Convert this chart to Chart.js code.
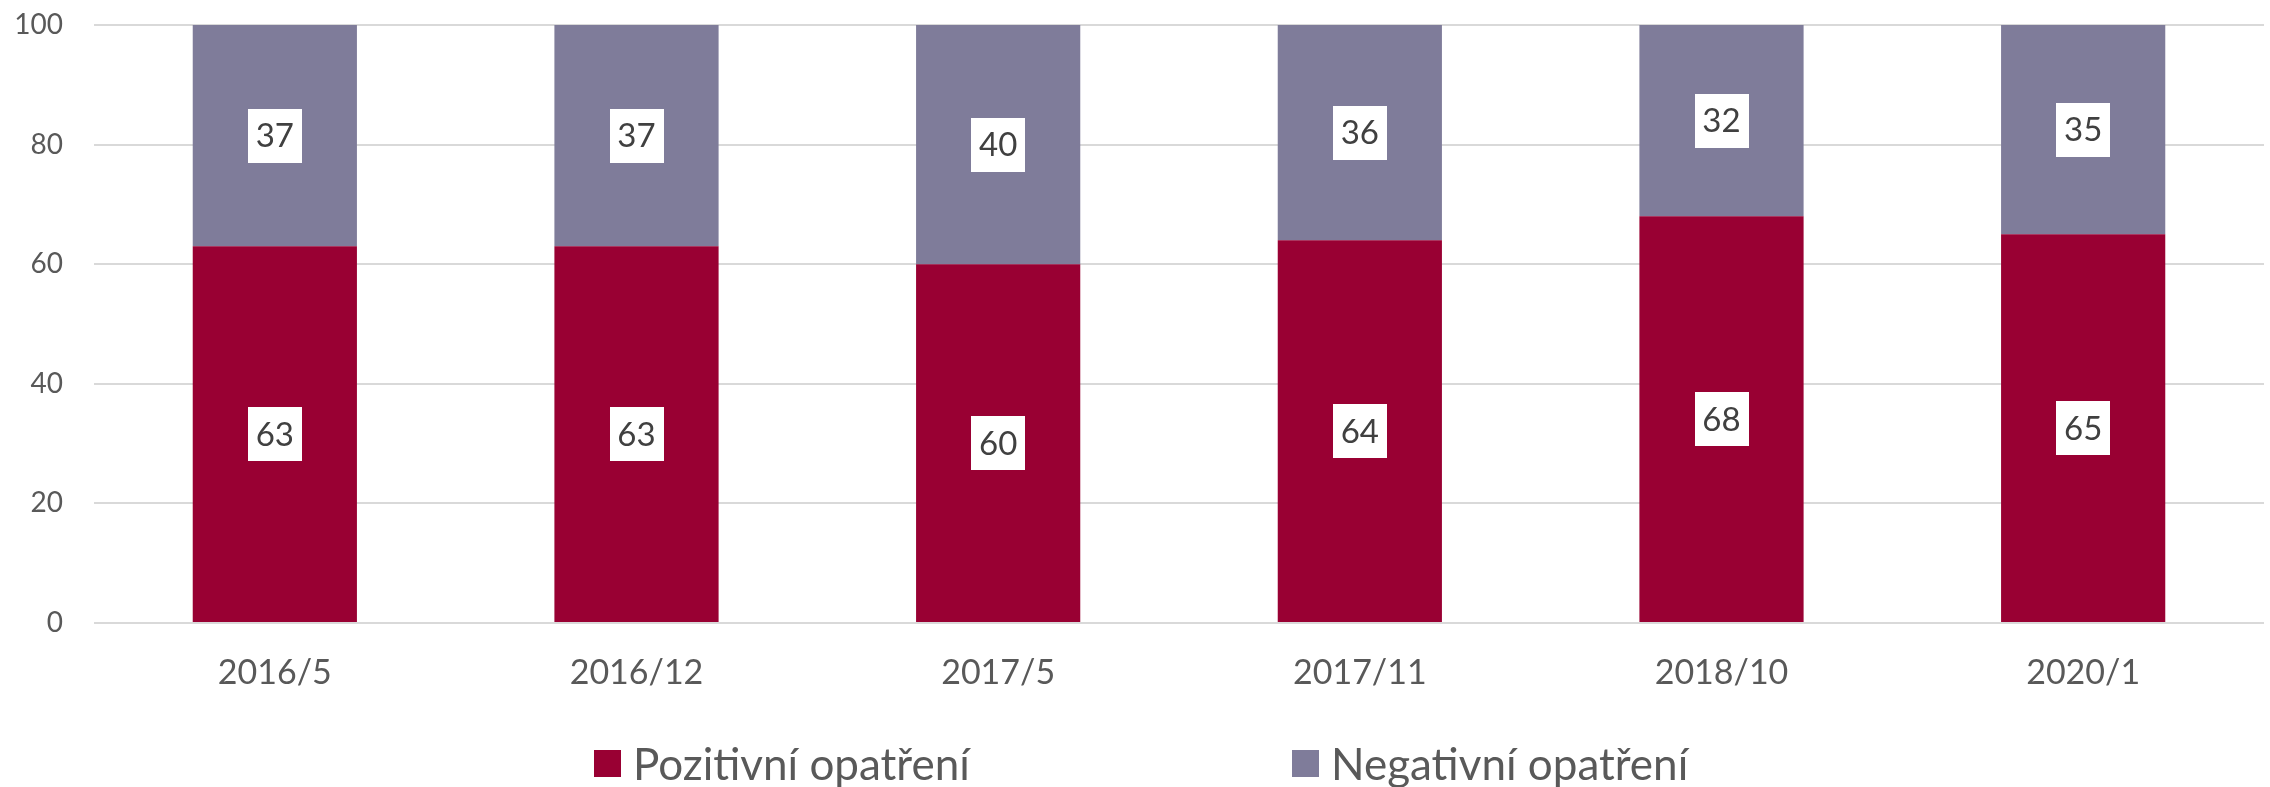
<!DOCTYPE html>
<html>
<head>
<meta charset="utf-8">
<script src="https://cdn.jsdelivr.net/npm/chart.js@4.4.1/dist/chart.umd.min.js"></script>
<style>
  html, body { margin: 0; padding: 0; background: #fff; }
  #wrap { position: relative; width: 2270px; height: 787px; }
  #chart { position: absolute; left: 0; top: 0; }
  #legend { position: absolute; left: 0; top: 737px; width: 2270px; height: 52px; font-family: Lato, sans-serif; font-size: 44px; color: #595959; }
  .item { position: absolute; top: 0; display: flex; align-items: center; height: 52px; }
  .box { width: 27px; height: 27px; margin-right: 12px; }
</style>
</head>
<body>
<div id="wrap">
  <canvas id="chart" width="2270" height="787"></canvas>
  <div id="legend"></div>
</div>
<script>
// Data
const categories = ['2016/5', '2016/12', '2017/5', '2017/11', '2018/10', '2020/1'];
const positive = [63, 63, 60, 64, 68, 65];
const negative = [37, 37, 40, 36, 32, 35];
const seriesNames = ['Pozitivní opatření', 'Negativní opatření'];
const yTicks = [0, 20, 40, 60, 80, 100];

const colors = ['#990033', '#7f7c9a'];

// Value boxes in the middle of each segment
const valueLabels = {
    id: 'valueLabels',
    afterDatasetsDraw(chart) {
        const ctx = chart.ctx;
        ctx.save();
        ctx.font = '33px Lato';
        ctx.textAlign = 'center';
        ctx.textBaseline = 'middle';
        chart.data.datasets.forEach((ds, i) => {
            const meta = chart.getDatasetMeta(i);
            meta.data.forEach((bar, j) => {
                const cx = bar.x;
                const cy = (bar.y + bar.base) / 2;
                ctx.fillStyle = '#ffffff';
                ctx.fillRect(Math.round(cx - 27), Math.round(cy - 27), 54, 54);
                ctx.fillStyle = '#404040';
                ctx.fillText(String(ds.data[j]), cx, cy + 1);
            });
        });
        ctx.restore();
    }
};

new Chart(document.getElementById('chart').getContext('2d'), {
    type: 'bar',
    data: {
        labels: categories,
        datasets: [
            { label: seriesNames[0], data: positive, backgroundColor: colors[0] },
            { label: seriesNames[1], data: negative, backgroundColor: colors[1] }
        ]
    },
    options: {
        responsive: false,
        animation: false,
        layout: { padding: { top: 25, right: 6, left: 0, bottom: 0 } },
        datasets: { bar: { barPercentage: 0.454, categoryPercentage: 1 } },
        plugins: { legend: { display: false }, tooltip: { enabled: false } },
        scales: {
            x: {
                stacked: true,
                grid: { display: false, drawTicks: false },
                border: { display: false },
                ticks: { color: '#595959', font: { family: 'Lato', size: 34 }, padding: 30 },
                afterFit(scale) { scale.height = 164; }
            },
            y: {
                stacked: true,
                min: 0,
                max: 100,
                afterBuildTicks(scale) { scale.ticks = yTicks.map(v => ({ value: v })); },
                grid: { color: '#d9d9d9', lineWidth: 2, drawTicks: false },
                border: { display: false },
                ticks: { color: '#595959', font: { family: 'Lato', size: 28 }, padding: 31 },
                afterFit(scale) {
                    scale.width = 94;
                    // the tick padding would otherwise push the plot down
                    scale.paddingTop = 0;
                    scale.paddingBottom = 0;
                }
            }
        }
    },
    plugins: [valueLabels]
});

// Legend
const legend = document.getElementById('legend');
const legendX = [594, 1292];
seriesNames.forEach((name, i) => {
    const item = document.createElement('div');
    item.className = 'item';
    item.style.left = legendX[i] + 'px';
    item.innerHTML = '<div class="box" style="background:' + colors[i] + '"></div><span>' + name + '</span>';
    legend.appendChild(item);
});
</script>
</body>
</html>
